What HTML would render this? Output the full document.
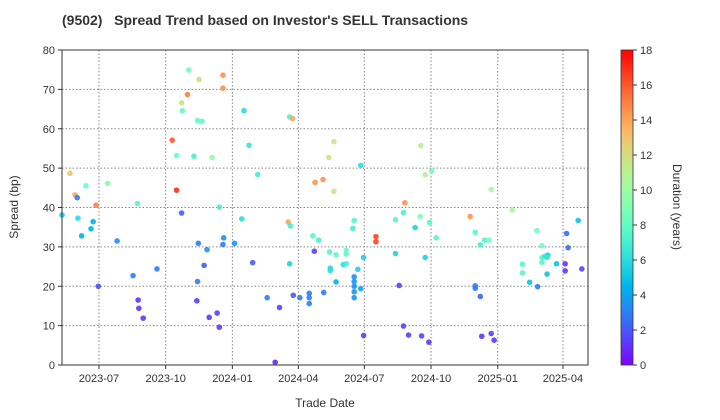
<!DOCTYPE html>
<html><head><meta charset="utf-8"><style>
body{margin:0;background:#fff;font-family:"Liberation Sans",sans-serif}
svg{display:block}
</style></head><body>
<svg id="chart" width="720" height="420" xmlns="http://www.w3.org/2000/svg" font-family="Liberation Sans, sans-serif">
<defs>
<linearGradient id="cb" x1="0" y1="1" x2="0" y2="0"></linearGradient>
</defs>
<text x="62" y="25" font-size="14" font-weight="bold" fill="#333" style="white-space:pre" xml:space="preserve">(9502)   Spread Trend based on Investor's SELL Transactions</text>
<g id="grid"></g>
<g id="pts"></g>
<rect x="62" y="50" width="526" height="315" fill="none" stroke="#333" stroke-width="1"/>
<g id="xt"></g>
<g id="yt"></g>
<text x="325" y="407" text-anchor="middle" font-size="12" fill="#333">Trade Date</text>
<text transform="translate(18,207) rotate(-90)" text-anchor="middle" font-size="12" fill="#333">Spread (bp)</text>
<rect x="621" y="50" width="12" height="315" fill="url(#cb)" stroke="#333" stroke-width="0.8"/>
<g id="ct"></g>
<text transform="translate(673,207) rotate(90)" text-anchor="middle" font-size="12" fill="#333">Duration (years)</text>
</svg>
<script>
// days since 2023-07-01
const days=[-51,-40,-33,-30,-29,-18,-24,-11,-8,-4,-1,12,25,53,47,54,55,61,80,101,107,107,114,114,115,122,124,131,136,142,138,137,149,145,136,135,156,152,163,166,171,171,166,172,171,187,197,200,207,212,219,
232,243,249,263,267,261,264,263,268,277,290,290,290,297,295,303,298,309,310,317,324,324,318,327,319,319,327,341,341,337,341,352,350,357,352,352,352,352,352,361,365,361,365,382,382,409,420,422,409,414,420,427,436,443,444,450,459,456,465,445,455,450,
512,519,526,532,538,541,519,519,526,528,541,545,570,584,584,594,604,611,611,611,615,619,618,618,605,631,645,647,643,643,661,666];
const spreads=[38.1,48.7,43.2,42.5,37.3,45.5,32.8,34.6,36.4,40.6,20.0,46.1,31.5,41.0,22.7,16.5,14.4,11.9,24.4,57.1,44.4,53.2,38.6,66.6,64.6,68.7,74.9,53.0,62.1,61.9,72.5,30.9,29.3,25.3,21.2,16.3,52.7,12.1,13.2,9.6,73.6,70.3,40.1,32.3,30.6,30.9,37.1,64.6,55.8,26.0,48.4,
17.1,0.7,14.6,63.0,62.6,36.3,35.3,25.7,17.7,17.1,18.2,17.1,15.6,28.9,32.8,31.7,46.4,47.1,18.4,52.7,56.7,44.1,28.7,28.0,24.6,24.0,21.1,29.1,28.2,25.5,25.7,36.7,34.7,24.3,22.4,21.2,20.0,18.6,17.1,19.4,27.3,50.7,7.5,32.6,31.3,36.9,38.7,41.2,28.3,20.2,9.9,7.6,34.9,37.7,55.7,48.3,49.3,36.2,32.3,7.4,5.8,27.3,
37.7,33.7,30.5,31.7,31.7,44.6,20.1,19.5,17.4,7.3,8.0,6.3,39.4,25.6,23.4,21.0,34.1,30.3,26.1,27.3,27.6,27.9,27.3,23.1,19.9,25.7,33.4,29.8,25.7,23.9,36.7,24.4];
const durations=[5.5,13,14,3,6,8.5,4.5,4.5,4.5,15,1.8,9,3.5,7.5,3,1.2,1.2,1.2,3,16,17,8.5,2.2,12,8,15,8.5,7,8,8,12,3,3.5,2.2,3,1.2,9.5,1.2,1.5,1.2,14.5,14.5,7,3.5,3,3.5,6,6,6.5,2.2,7,
3,1,1.5,7,14,14,7,5.5,2,3,3,3,3,1.5,7.5,7,14.5,14.5,3,11.5,11.5,11.5,7.5,8,6,6,4.5,8,8,6,7,7.5,7,5.5,3.5,3.5,3.5,3.5,3.5,4,5.5,6,1.5,16.5,16.5,7.5,7,14.5,5.5,1.5,1.5,1.5,5.5,9,11,11,8.5,7.5,7.5,1.5,1.2,5.5,
14.5,7.5,7,7.5,8.5,10,3,3,2.2,1.2,1.5,1.2,10.5,7.5,7.5,5,8.5,8.5,7.5,7.5,6.5,5.5,6.5,5,3,5,2.5,2.5,1.2,1.2,5,1.5];
const xTickDays=[0,92,184,275,366,458,550,640];
const xTickLabels=["2023-07","2023-10","2024-01","2024-04","2024-07","2024-10","2025-01","2025-04"];
const yTicks=[0,10,20,30,40,50,60,70,80];
const cTicks=[0,2,4,6,8,10,12,14,16,18];

const NS="http://www.w3.org/2000/svg";
const X0=62,X1=588,Y0=365,Y1=50,D0=-51,D1=674.5,VMAX=80,CMAX=18;
const xs=d=>X0+(d-D0)/(D1-D0)*(X1-X0);
const ys=v=>Y0-v/VMAX*(Y0-Y1);
function rainbow(t){
  t=Math.max(0,Math.min(1,t));
  const r=Math.min(1,Math.abs(2*t-0.5)),g=Math.sin(Math.PI*t),b=Math.cos(Math.PI*t/2);
  return `rgb(${Math.round(r*255)},${Math.round(g*255)},${Math.round(b*255)})`;
}
function mk(tag,attrs,parent){const e=document.createElementNS(NS,tag);for(const k in attrs)e.setAttribute(k,attrs[k]);parent.appendChild(e);return e;}
const grid=document.getElementById('grid'),xt=document.getElementById('xt'),yt=document.getElementById('yt'),pts=document.getElementById('pts'),ct=document.getElementById('ct');
xTickDays.forEach((d,i)=>{
  const x=xs(d);
  const l=mk('line',{x1:x,x2:x,y1:Y1,y2:Y0,stroke:'#888','stroke-dasharray':'1.5,2','stroke-width':1},grid);
  
  
  mk('line',{x1:x,x2:x,y1:Y0,y2:Y0+4,stroke:'#333'},xt);
  const t=mk('text',{x:x,y:Y0+17,'text-anchor':'middle','font-size':11,fill:'#333'},xt);
  t.textContent=xTickLabels[i];
  
  
});
yTicks.forEach(v=>{
  const y=ys(v);
  if(v>0&&v<VMAX){const l=mk('line',{x1:X0,x2:X1,y1:y,y2:y,stroke:'#888','stroke-dasharray':'1.5,2','stroke-width':1},grid);
  
  }
  mk('line',{x1:X0-4,x2:X0,y1:y,y2:y,stroke:'#333'},yt);
  const t=mk('text',{x:X0-7,y:y+4,'text-anchor':'end','font-size':11,fill:'#333'},yt);
  t.textContent=v;
  
  
});
days.forEach((d,i)=>{
  const c=mk('circle',{cx:xs(d),cy:ys(spreads[i]),r:2.8,fill:rainbow(durations[i]/CMAX),'fill-opacity':0.9},pts);
  
  
});
const g=document.getElementById('cb');
for(let i=0;i<=20;i++){mk('stop',{offset:(i/20),'stop-color':rainbow(i/20)},g);}
cTicks.forEach(v=>{
  const y=Y0-v/CMAX*(Y0-Y1);
  mk('line',{x1:633,x2:637,y1:y,y2:y,stroke:'#333'},ct);
  const t=mk('text',{x:640,y:y+4,'font-size':11,fill:'#333'},ct);
  t.textContent=v;
  
  
});
</script>
</body></html>
